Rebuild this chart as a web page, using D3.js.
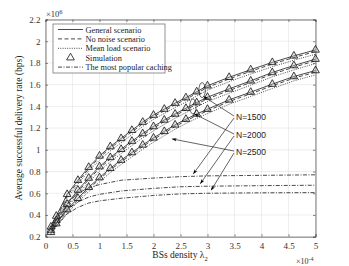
<!DOCTYPE html>
<html>
<head>
<meta charset="utf-8">
<script src="https://cdn.jsdelivr.net/npm/d3@7"></script>
<style>
  body { margin: 0; background: #fff; }
  text { font-family: "Liberation Serif", "Times New Roman", serif; }
</style>
</head>
<body>
<svg width="349" height="266"></svg>
<script>
const svg = d3.select("svg");

// x in units of 1e-4, rates in units of 1e6 bps
const xs = [0.1, 0.2, 0.4, 0.6, 0.8, 1.0, 1.2, 1.4, 1.6, 1.8, 2.0, 2.2, 2.4, 2.6, 2.8, 3.0, 3.4, 3.8, 4.2, 4.6, 5.0];

const general1500 = [0.29, 0.39, 0.59, 0.72, 0.84, 0.944, 1.03, 1.105, 1.18, 1.255, 1.32, 1.375, 1.43, 1.48, 1.535, 1.59, 1.668, 1.738, 1.805, 1.865, 1.92];
const general2000 = [0.26, 0.35, 0.50, 0.63, 0.74, 0.845, 0.93, 1.005, 1.08, 1.15, 1.215, 1.275, 1.33, 1.383, 1.435, 1.485, 1.561, 1.635, 1.712, 1.776, 1.835];
const general2500 = [0.24, 0.32, 0.45, 0.554, 0.655, 0.744, 0.83, 0.905, 0.975, 1.045, 1.11, 1.17, 1.23, 1.282, 1.33, 1.374, 1.46, 1.531, 1.605, 1.675, 1.73];

const noNoise1500 = [0.28, 0.375, 0.575, 0.705, 0.825, 0.93, 1.015, 1.09, 1.165, 1.24, 1.305, 1.36, 1.415, 1.465, 1.52, 1.575, 1.653, 1.723, 1.79, 1.85, 1.905];
const noNoise2000 = [0.25, 0.335, 0.485, 0.615, 0.725, 0.83, 0.915, 0.99, 1.065, 1.135, 1.2, 1.26, 1.315, 1.368, 1.42, 1.47, 1.546, 1.62, 1.697, 1.761, 1.82];
const noNoise2500 = [0.23, 0.305, 0.435, 0.54, 0.64, 0.73, 0.815, 0.89, 0.96, 1.03, 1.095, 1.155, 1.215, 1.267, 1.315, 1.359, 1.445, 1.516, 1.59, 1.66, 1.715];

const meanLoad1500 = [0.27, 0.36, 0.555, 0.685, 0.805, 0.905, 0.99, 1.065, 1.14, 1.215, 1.28, 1.335, 1.39, 1.44, 1.495, 1.55, 1.628, 1.698, 1.765, 1.825, 1.88];
const meanLoad2000 = [0.24, 0.32, 0.465, 0.595, 0.70, 0.805, 0.89, 0.965, 1.04, 1.11, 1.175, 1.235, 1.29, 1.343, 1.395, 1.445, 1.521, 1.595, 1.672, 1.736, 1.795];
const meanLoad2500 = [0.22, 0.29, 0.415, 0.52, 0.615, 0.705, 0.79, 0.865, 0.935, 1.005, 1.07, 1.13, 1.19, 1.242, 1.29, 1.334, 1.42, 1.491, 1.565, 1.635, 1.69];

const popXs = [0.1, 0.2, 0.4, 0.6, 0.8, 1.0, 1.4, 2.0, 2.5, 3.0, 4.0, 5.0];
const popular1500 = [0.28, 0.37, 0.52, 0.60, 0.65, 0.68, 0.72, 0.74, 0.753, 0.76, 0.765, 0.77];
const popular2000 = [0.25, 0.33, 0.45, 0.52, 0.565, 0.59, 0.621, 0.645, 0.66, 0.665, 0.67, 0.674];
const popular2500 = [0.23, 0.30, 0.41, 0.47, 0.51, 0.53, 0.554, 0.58, 0.594, 0.60, 0.604, 0.606];

const xTicks = [0, 0.5, 1, 1.5, 2, 2.5, 3, 3.5, 4, 4.5, 5];
const yTicks = [0.2, 0.4, 0.6, 0.8, 1, 1.2, 1.4, 1.6, 1.8, 2, 2.2];

const legendItems = ["General scenario", "No noise scenario", "Mean load scenario", "Simulation", "The most popular caching"];

const plotLeft = 45.5, plotRight = 315.5, plotTop = 19.5, plotBottom = 236.7;

const x = d3.scaleLinear().domain([0, 5]).range([plotLeft, plotRight]);
const y = d3.scaleLinear().domain([0.2, 2.2]).range([plotBottom, plotTop]);

const axisColor = "#555";
const lineColor = "#1a1a1a";

// grid
svg.append("g").selectAll("line").data(xTicks).join("line")
  .attr("x1", d => x(d)).attr("x2", d => x(d))
  .attr("y1", plotTop).attr("y2", plotBottom)
  .attr("stroke", "#e6e6e6").attr("stroke-width", 0.7);
svg.append("g").selectAll("line").data(yTicks).join("line")
  .attr("x1", plotLeft).attr("x2", plotRight)
  .attr("y1", d => y(d)).attr("y2", d => y(d))
  .attr("stroke", "#e6e6e6").attr("stroke-width", 0.7);

// axes
svg.append("g")
  .attr("transform", `translate(0, ${plotBottom})`)
  .call(d3.axisBottom(x).tickValues(xTicks).tickSize(-2.5).tickPadding(6).tickFormat(d3.format("")));
svg.append("g")
  .attr("transform", `translate(${plotLeft}, 0)`)
  .call(d3.axisLeft(y).tickValues(yTicks).tickSize(-2.5).tickPadding(5).tickFormat(d3.format("")));
svg.append("g")
  .attr("transform", `translate(0, ${plotTop})`)
  .call(d3.axisTop(x).tickValues(xTicks).tickSize(-2.5).tickFormat(""));
svg.append("g")
  .attr("transform", `translate(${plotRight}, 0)`)
  .call(d3.axisRight(y).tickValues(yTicks).tickSize(-2.5).tickFormat(""));

svg.selectAll(".domain").attr("stroke", axisColor).attr("stroke-width", 0.8);
svg.selectAll(".tick line").attr("stroke", axisColor).attr("stroke-width", 0.7);
svg.selectAll(".tick text")
  .attr("fill", "#333")
  .style("font-family", "Liberation Serif, serif")
  .style("font-size", "9px");

// curves
const line = d3.line().x(d => x(d[0])).y(d => y(d[1]));
const zipXs = vals => xs.map((v, i) => [v, vals[i]]);
const zipPop = vals => popXs.map((v, i) => [v, vals[i]]);

const styles = {
  general: null,
  noNoise: "4,2.5",
  meanLoad: "1,1.3",
  popular: "4,1.5,1,1.5"
};

const groups = [
  [general1500, noNoise1500, meanLoad1500, popular1500],
  [general2000, noNoise2000, meanLoad2000, popular2000],
  [general2500, noNoise2500, meanLoad2500, popular2500]
];

const curvesG = svg.append("g");
groups.forEach(([gen, nn, ml, pop]) => {
  curvesG.append("path").attr("d", line(zipPop(pop)))
    .attr("fill", "none").attr("stroke", lineColor).attr("stroke-width", 0.8)
    .attr("stroke-dasharray", styles.popular);
  curvesG.append("path").attr("d", line(zipXs(ml)))
    .attr("fill", "none").attr("stroke", lineColor).attr("stroke-width", 0.8)
    .attr("stroke-dasharray", styles.meanLoad);
  curvesG.append("path").attr("d", line(zipXs(nn)))
    .attr("fill", "none").attr("stroke", lineColor).attr("stroke-width", 0.8)
    .attr("stroke-dasharray", styles.noNoise);
  curvesG.append("path").attr("d", line(zipXs(gen)))
    .attr("fill", "none").attr("stroke", lineColor).attr("stroke-width", 0.8);
});

// simulation markers
const tri = d3.symbol().type(d3.symbolTriangle).size(26);
groups.forEach(([gen]) => {
  curvesG.append("g").selectAll("path").data(zipXs(gen)).join("path")
    .attr("d", tri)
    .attr("transform", d => `translate(${x(d[0])}, ${y(d[1])})`)
    .attr("fill", "#bbb").attr("fill-opacity", 0.35)
    .attr("stroke", "#111").attr("stroke-width", 0.8);
});

// annotations
const defs = svg.append("defs");
defs.append("marker").attr("id", "arrow")
  .attr("viewBox", "0 0 10 10").attr("refX", 9).attr("refY", 5)
  .attr("markerWidth", 7).attr("markerHeight", 7).attr("orient", "auto")
  .append("path").attr("d", "M0,1.5 L10,5 L0,8.5 L3,5 Z").attr("fill", "#000");

const ann = svg.append("g");
const arrows = [
  [[234, 116], [x(2.93), y(1.49)]],
  [[234, 118], [x(2.74), y(0.78)]],
  [[234, 134], [x(2.76), y(1.33)]],
  [[234, 136], [x(2.87), y(0.69)]],
  [[234, 151], [x(2.35), y(1.10)]],
  [[234, 153], [x(3.07), y(0.63)]]
];
arrows.forEach(([a, b]) => {
  ann.append("line")
    .attr("x1", a[0]).attr("y1", a[1]).attr("x2", b[0]).attr("y2", b[1])
    .attr("stroke", "#222").attr("stroke-width", 0.7)
    .attr("marker-end", "url(#arrow)");
});
ann.append("ellipse").attr("cx", x(2.9)).attr("cy", y(1.55)).attr("rx", 3.2).attr("ry", 7.5)
  .attr("fill", "none").attr("stroke", "#222").attr("stroke-width", 0.7);
ann.append("ellipse").attr("cx", x(2.73)).attr("cy", y(1.40)).attr("rx", 3.2).attr("ry", 7.5)
  .attr("fill", "none").attr("stroke", "#222").attr("stroke-width", 0.7);

const nLabels = ["N=1500", "N=2000", "N=2500"];
ann.selectAll("text").data(nLabels).join("text")
  .attr("x", 236).attr("y", (d, i) => 120 + i * 17.5)
  .style("font-family", "Liberation Sans, Arial, sans-serif")
  .style("font-size", "8.5px").attr("fill", "#222")
  .text(d => d);

// legend
const lg = svg.append("g");
lg.append("rect").attr("x", 53).attr("y", 24).attr("width", 112).attr("height", 49)
  .attr("fill", "#fff").attr("stroke", "#666").attr("stroke-width", 0.7);
const legendDash = [null, styles.noNoise, styles.meanLoad, "none", styles.popular];
legendItems.forEach((t, i) => {
  const ly = 29.5 + i * 9.4;
  if (legendDash[i] !== "none") {
    lg.append("line").attr("x1", 58).attr("x2", 83).attr("y1", ly).attr("y2", ly)
      .attr("stroke", lineColor).attr("stroke-width", 0.8)
      .attr("stroke-dasharray", legendDash[i]);
  } else {
    lg.append("path").attr("d", tri).attr("transform", `translate(70.5, ${ly})`)
      .attr("fill", "none").attr("stroke", "#111").attr("stroke-width", 0.8);
  }
  lg.append("text").attr("x", 85.5).attr("y", ly + 3)
    .style("font-size", "8.3px").attr("fill", "#222").text(t);
});

// exponents and labels
const e6 = svg.append("text").attr("x", 46).attr("y", 17).style("font-size", "8.5px").attr("fill", "#333");
e6.append("tspan").text("\u00d710");
e6.append("tspan").attr("dy", -3.5).style("font-size", "6.5px").text("6");

const e4 = svg.append("text").attr("x", 296).attr("y", 264).style("font-size", "8px").attr("fill", "#333");
e4.append("tspan").text("\u00d710");
e4.append("tspan").attr("dy", -3.5).style("font-size", "6px").text("-4");

const xl = svg.append("text").attr("x", 180).attr("y", 258).attr("text-anchor", "middle")
  .style("font-size", "9.5px").attr("fill", "#222");
xl.append("tspan").text("BSs density  \u03bb");
xl.append("tspan").attr("dy", 2.5).style("font-size", "6.5px").text("2");

svg.append("text")
  .attr("transform", `translate(22, ${(plotTop + plotBottom) / 2}) rotate(-90)`)
  .attr("text-anchor", "middle")
  .style("font-size", "9.5px").attr("fill", "#222")
  .text("Average successful delivery rate (bps)");
</script>
</body>
</html>
